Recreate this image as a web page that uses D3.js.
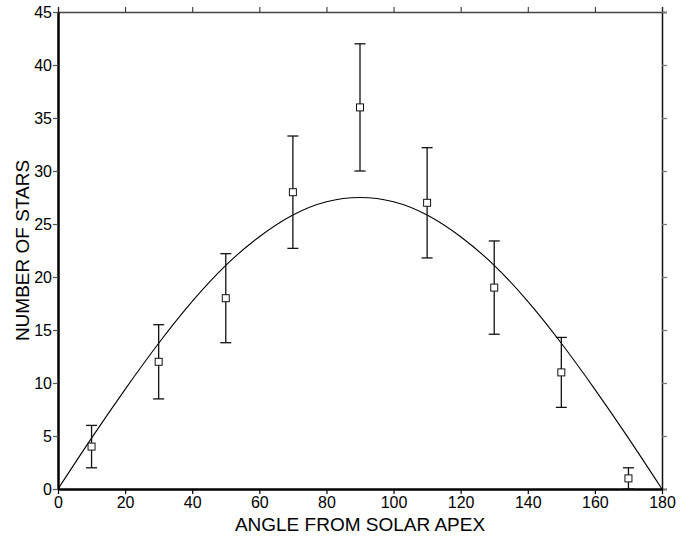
<!DOCTYPE html>
<html>
<head>
<meta charset="utf-8">
<script src="https://cdn.jsdelivr.net/npm/d3@7"></script>
<style>
  body { margin: 0; background: #fff; }
  svg { display: block; font-family: Arial, "Liberation Sans", sans-serif; }
</style>
</head>
<body>
<div id="chart"></div>
<script>
// observed counts with error bars
const angles = [10, 30, 50, 70, 90, 110, 130, 150, 170];
const counts = [4, 12, 18, 28, 36, 27, 19, 11, 1];
const errLow = [2, 8.5, 13.8, 22.7, 30, 21.8, 14.6, 7.7, 0];
const errHigh = [6, 15.5, 22.2, 33.3, 42, 32.2, 23.4, 14.3, 2];

// fitted curve
const curveAngles = [0, 10, 20, 30, 40, 50, 60, 70, 80, 90, 100, 110, 120, 130, 140, 150, 160, 170, 180];
const curveValues = [0, 4.8, 9.4, 13.75, 17.7, 21.1, 23.8, 25.85, 27.1, 27.5, 27.1, 25.85, 23.8, 21.1, 17.7, 13.75, 9.4, 4.8, 0];

const xTicks = [0, 20, 40, 60, 80, 100, 120, 140, 160, 180];
const yTicks = [0, 5, 10, 15, 20, 25, 30, 35, 40, 45];

const W = 691, H = 536;
const margin = { top: 12, right: 29, bottom: 47, left: 58 };
const width = W - margin.left - margin.right;
const height = H - margin.top - margin.bottom;

const svg = d3.select("#chart")
  .append("svg")
  .attr("width", W)
  .attr("height", H);

const g = svg.append("g")
  .attr("transform", `translate(${margin.left},${margin.top})`);

const x = d3.scaleLinear().domain([0, 180]).range([0, width]);
const y = d3.scaleLinear().domain([0, 45]).range([height, 0]);

// top and right frame (lighter)
g.append("g")
  .call(d3.axisTop(x).tickValues(xTicks).tickSize(5).tickFormat(""))
  .call((a) => a.select(".domain").attr("stroke", "#444").attr("stroke-width", 1.5))
  .call((a) => a.selectAll(".tick line").attr("stroke", "#222"));

g.append("g")
  .attr("transform", `translate(${width},0)`)
  .call(d3.axisRight(y).tickValues(yTicks).tickSize(5).tickFormat(""))
  .call((a) => a.select(".domain").attr("stroke", "#111").attr("stroke-width", 1.5))
  .call((a) => a.selectAll(".tick line").attr("stroke", "#777").attr("stroke-width", 1.3));

// bottom axis
const xAxisG = g.append("g")
  .attr("transform", `translate(0,${height})`)
  .call(d3.axisBottom(x).tickValues(xTicks).tickSize(5).tickPadding(3).tickSizeOuter(0));
xAxisG.select(".domain").attr("stroke", "#000").attr("stroke-width", 2.5);
xAxisG.selectAll(".tick line").attr("stroke", "#000").attr("stroke-width", 1.2);
xAxisG.selectAll(".tick text").attr("font-size", 16).attr("fill", "#000");

// left axis
const yAxisG = g.append("g")
  .call(d3.axisLeft(y).tickValues(yTicks).tickSize(5).tickPadding(1).tickSizeOuter(0));
yAxisG.select(".domain").attr("stroke", "#000").attr("stroke-width", 2.5);
yAxisG.selectAll(".tick line").attr("stroke", "#555").attr("stroke-width", 1.2);
yAxisG.selectAll(".tick text").attr("font-size", 16).attr("fill", "#000");

// axis titles
svg.append("text")
  .attr("x", margin.left + width / 2)
  .attr("y", H - 5)
  .attr("text-anchor", "middle")
  .attr("font-size", 19)
  .attr("fill", "#000")
  .text("ANGLE FROM SOLAR APEX");

svg.append("text")
  .attr("transform", `translate(29,${margin.top + height / 2}) rotate(-90)`)
  .attr("text-anchor", "middle")
  .attr("font-size", 19)
  .attr("fill", "#000")
  .text("NUMBER OF STARS");

// fitted curve
const fit = curveAngles.map((a, i) => ({ a, v: curveValues[i] }));
g.append("path")
  .datum(fit)
  .attr("fill", "none")
  .attr("stroke", "#000")
  .attr("stroke-width", 1.1)
  .attr("d", d3.line().x((d) => x(d.a)).y((d) => y(d.v)).curve(d3.curveNatural));

// error bars and markers
const pts = angles.map((a, i) => ({ a, c: counts[i], lo: errLow[i], hi: errHigh[i] }));
const cap = 5.5;
const bars = g.append("g").attr("stroke", "#111").attr("stroke-width", 1.3);

bars.selectAll(".stem")
  .data(pts)
  .enter()
  .append("line")
  .attr("x1", (d) => x(d.a))
  .attr("x2", (d) => x(d.a))
  .attr("y1", (d) => y(d.lo))
  .attr("y2", (d) => y(d.hi));

bars.selectAll(".capHi")
  .data(pts)
  .enter()
  .append("line")
  .attr("x1", (d) => x(d.a) - cap)
  .attr("x2", (d) => x(d.a) + cap)
  .attr("y1", (d) => y(d.hi))
  .attr("y2", (d) => y(d.hi));

bars.selectAll(".capLo")
  .data(pts)
  .enter()
  .append("line")
  .attr("x1", (d) => x(d.a) - cap)
  .attr("x2", (d) => x(d.a) + cap)
  .attr("y1", (d) => y(d.lo))
  .attr("y2", (d) => y(d.lo));

g.append("g")
  .selectAll("rect")
  .data(pts)
  .enter()
  .append("rect")
  .attr("x", (d) => x(d.a) - 3.5)
  .attr("y", (d) => y(d.c) - 3.5)
  .attr("width", 7)
  .attr("height", 7)
  .attr("fill", "#fff")
  .attr("stroke", "#111")
  .attr("stroke-width", 1);
</script>
</body>
</html>
